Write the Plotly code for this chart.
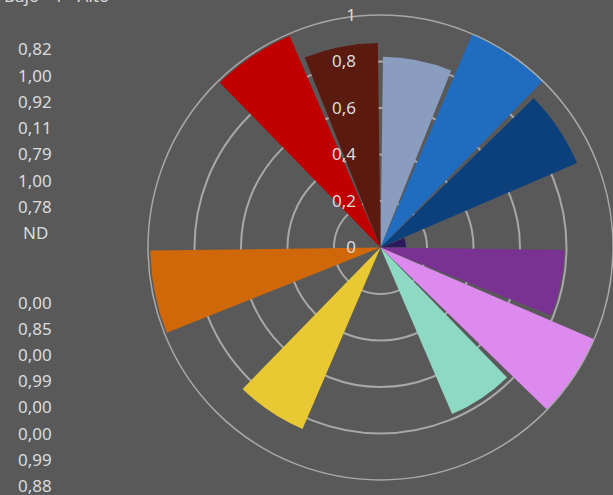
import plotly.graph_objects as go

# values per sector, clockwise from the top (None = ND)
values = [0.82, 1.00, 0.92, 0.11, 0.79, 1.00, 0.78, None,
          0.00, 0.85, 0.00, 0.99, 0.00, 0.00, 0.99, 0.88]
colors = ['#8A9DBE', '#1F6CC0', '#0B407C', '#2B1A5E', '#7A3292', '#DC8AEE', '#8ED9C3', '#595959',
          '#595959', '#E9C933', '#595959', '#D0680A', '#595959', '#595959', '#C00000', '#5A1A10']
theta = [11.25 + 22.5 * i for i in range(len(values))]
radial_ticks = [0, 0.2, 0.4, 0.6, 0.8, 1]
title_text = 'Bajo - 1 - Alto'

bg = '#595959'
txt = '#DCDCDC'

fig = go.Figure(go.Barpolar(
    r=values, theta=theta, width=[21] * len(values),
    marker=dict(color=colors, line=dict(width=0)),
    hoverinfo='skip'))


def fmt(v):
    return 'ND' if v is None else f'{v:.2f}'.replace('.', ',')


# value list on the left
ann = []
for i, v in enumerate(values):
    ypx = 49 + 26.2 * i if i < 8 else 302 + 26.2 * (i - 8)
    ann.append(dict(x=35 / 613, y=1 - ypx / 495, xref='paper', yref='paper',
                    text=fmt(v), showarrow=False, xanchor='center', yanchor='middle',
                    font=dict(size=17, color=txt, family='Noto Sans')))
ann.append(dict(x=111 / 613, y=1 + 4 / 495, xref='paper', yref='paper', text=title_text,
                showarrow=False, xanchor='right', yanchor='middle',
                font=dict(size=17, color=txt, family='Noto Sans')))

fig.update_layout(
    width=613, height=495,
    margin=dict(l=0, r=0, t=0, b=0),
    paper_bgcolor=bg, plot_bgcolor=bg,
    separators=',.',
    showlegend=False,
    annotations=ann,
    polar=dict(
        bgcolor=bg,
        domain=dict(x=[148 / 613, 1], y=[0.02, 0.98]),
        radialaxis=dict(range=[0, 1], tickvals=radial_ticks, angle=90, tickangle=90,
                        side='counterclockwise', showline=False,
                        ticks='outside', ticklen=18, tickcolor='rgba(0,0,0,0)',
                        gridcolor='#A8A8A8', gridwidth=1.5,
                        tickfont=dict(size=17, color=txt, family='Noto Sans')),
        angularaxis=dict(direction='clockwise', rotation=90, showgrid=False,
                         showticklabels=False, showline=True, linecolor='#A8A8A8',
                         linewidth=1.5, ticks=''),
    ),
)

fig.write_html('out.html', config={'displayModeBar': False},
               post_script="document.body.style.margin='0';")
